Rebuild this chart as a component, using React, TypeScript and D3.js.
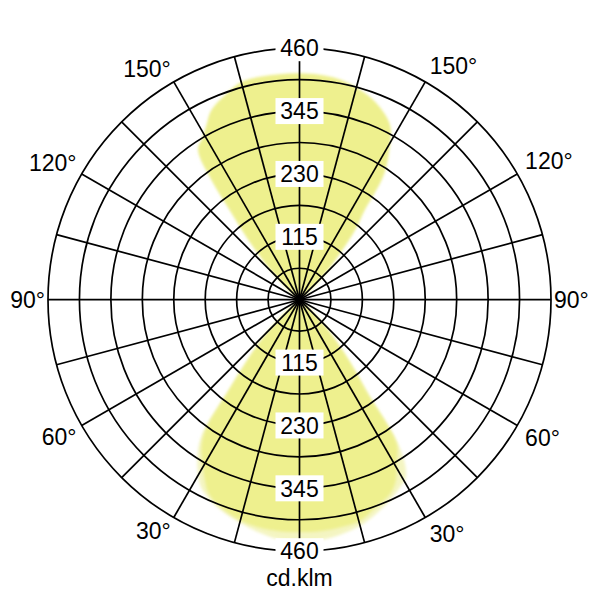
import * as d3 from 'd3';
import React, { useRef, useEffect } from 'react';

// gamma angles (0 = straight down, 180 = straight up)
const gammaDeg = [0, 5, 10, 15, 20, 25, 28, 31, 34, 36, 38, 40, 43, 46, 50, 70, 90, 110, 130, 134, 137, 140, 142, 144, 146, 149, 152, 155, 160, 165, 170, 175, 180];

// main curve (darker yellow), right half = C0, left half = C180
const mainC0 = [425, 425, 423, 420, 405, 392, 375, 345, 318, 210, 165, 125, 80, 40, 12, 2, 0, 2, 12, 40, 80, 130, 170, 200, 275, 318, 355, 372, 390, 402, 410, 413, 414];
const mainC180 = [425, 425, 423, 418, 408, 392, 370, 345, 320, 290, 210, 160, 110, 55, 15, 3, 0, 3, 15, 45, 90, 150, 200, 280, 332, 345, 362, 382, 398, 412, 414, 414, 414];

// second curve (lighter yellow), mostly visible round the lower lobe
const wideC0 = [442, 441, 436, 428, 415, 400, 390, 378, 330, 215, 160, 120, 75, 35, 8, 0, 0, 0, 8, 35, 75, 125, 165, 195, 265, 310, 350, 368, 386, 398, 406, 409, 410];
const wideC180 = [442, 440, 432, 422, 412, 398, 386, 362, 332, 300, 205, 155, 105, 50, 12, 0, 0, 0, 12, 40, 85, 145, 195, 272, 325, 340, 358, 378, 394, 408, 410, 410, 410];

const ringValues = [57.5, 115, 172.5, 230, 287.5, 345, 402.5, 460];
const tickLabels = [115, 230, 345, 460];
const angleLabels = [30, 60, 90, 120, 150];
const unitLabel = 'cd.klm';

const App: React.FC = () => {
  const ref = useRef<SVGSVGElement>(null);

  useEffect(() => {
    const cx = 299.5;
    const cy = 299.7;
    const radius = 251.5;
    const fontSize = 23;
    const cap = fontSize * 0.716;
    const font = '"Liberation Sans", Arial, sans-serif';

    const svg = d3.select(ref.current);
    svg.selectAll('*').remove();

    const r = d3.scaleLinear().domain([0, 460]).range([0, radius]);
    const rad = (deg: number) => (deg * Math.PI) / 180;

    const defs = svg.append('defs');
    defs.append('filter')
      .attr('id', 'soft')
      .attr('x', '-10%').attr('y', '-10%')
      .attr('width', '120%').attr('height', '120%')
      .append('feGaussianBlur')
      .attr('stdDeviation', 1.4);

    svg.append('rect').attr('width', 600).attr('height', 600).attr('fill', '#fff');

    const g = svg.append('g').attr('transform', `translate(${cx},${cy})`);

    // build closed point list: right half 0 -> 180, then left half back down
    const toPoints = (right: number[], left: number[]) => {
      const pts: [number, number][] = gammaDeg.map((gm, i) => [Math.PI - rad(gm), right[i]]);
      for (let i = gammaDeg.length - 2; i >= 1; i--) {
        pts.push([Math.PI + rad(gammaDeg[i]), left[i]]);
      }
      return pts;
    };

    const line = d3.lineRadial<[number, number]>()
      .angle(d => d[0])
      .radius(d => r(d[1]))
      .curve(d3.curveCatmullRomClosed.alpha(0.5));

    g.append('path')
      .attr('d', line(toPoints(wideC0, wideC180)))
      .attr('fill', '#f4f5c2')
      .attr('filter', 'url(#soft)');

    g.append('path')
      .attr('d', line(toPoints(mainC0, mainC180)))
      .attr('fill', '#eef08e')
      .attr('filter', 'url(#soft)');

    // rings
    g.selectAll('.ring')
      .data(ringValues)
      .enter()
      .append('circle')
      .attr('r', d => r(d))
      .attr('fill', 'none')
      .attr('stroke', '#000')
      .attr('stroke-width', 1.7);

    // spokes every 15 degrees
    g.selectAll('.spoke')
      .data(d3.range(0, 360, 15))
      .enter()
      .append('line')
      .attr('x1', 0).attr('y1', 0)
      .attr('x2', d => radius * Math.sin(rad(d)))
      .attr('y2', d => -radius * Math.cos(rad(d)))
      .attr('stroke', '#000')
      .attr('stroke-width', 1.7);

    // intensity labels on the vertical axis, above and below
    const ticks = tickLabels.flatMap(v => [{ v, y: -r(v) }, { v, y: r(v) }]);
    const tick = g.selectAll('.tick').data(ticks).enter().append('g')
      .attr('transform', d => `translate(0,${d.y})`);
    tick.append('rect')
      .attr('x', -24).attr('y', -13)
      .attr('width', 48).attr('height', 26)
      .attr('fill', '#fff');
    tick.append('text')
      .attr('y', cap / 2)
      .attr('text-anchor', 'middle')
      .attr('font-family', font)
      .attr('font-size', fontSize)
      .attr('fill', '#000')
      .text(d => d.v);

    // angle labels on both sides
    const angles = angleLabels.flatMap(a => [{ a, side: 1 }, { a, side: -1 }]);
    g.selectAll('.angle')
      .data(angles)
      .enter()
      .append('text')
      .each(function (d) {
        const pad = d.a === 90 ? 3 : d.side < 0 ? 6 : 9;
        const theta = d.side > 0 ? Math.PI - rad(d.a) : Math.PI + rad(d.a);
        const x = (radius + pad) * Math.sin(theta);
        const y = -(radius + pad) * Math.cos(theta);
        const dy = d.a < 90 ? cap : d.a === 90 ? cap / 2 : 0;
        d3.select(this)
          .attr('x', x)
          .attr('y', y + dy)
          .attr('text-anchor', d.side > 0 ? 'start' : 'end');
      })
      .attr('font-family', font)
      .attr('font-size', fontSize)
      .attr('fill', '#000')
      .text(d => `${d.a}°`);

    g.append('text')
      .attr('x', 0)
      .attr('y', radius + 35)
      .attr('text-anchor', 'middle')
      .attr('font-family', font)
      .attr('font-size', fontSize)
      .attr('fill', '#000')
      .text(unitLabel);
  }, []);

  return (
    <svg ref={ref} width={600} height={600} style={{ position: 'absolute', left: 0, top: 0 }} />
  );
};

export default App;
